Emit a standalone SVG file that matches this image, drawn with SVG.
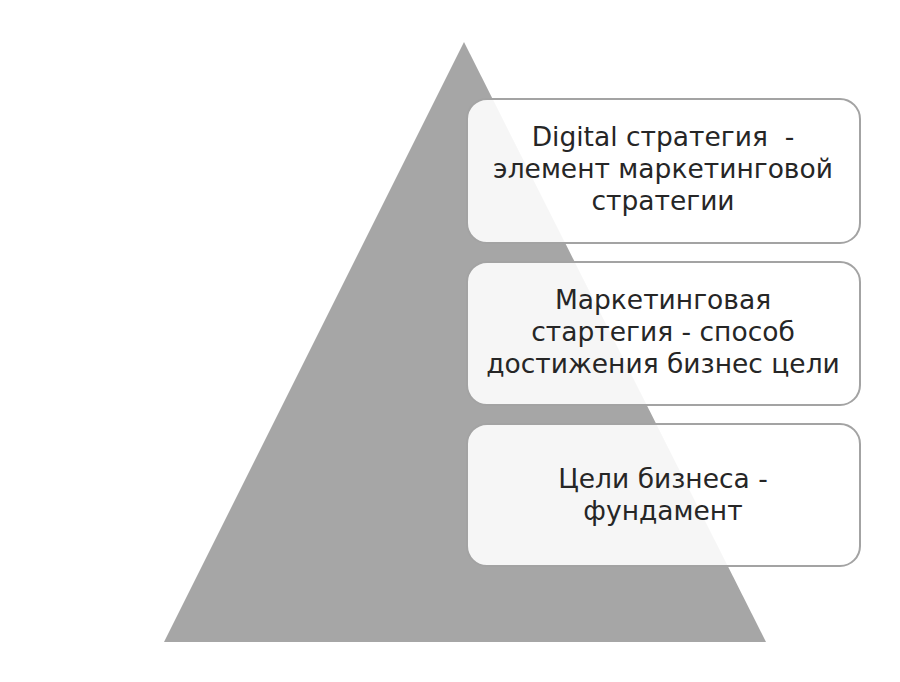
<svg xmlns="http://www.w3.org/2000/svg" width="900" height="682" viewBox="0 0 900 682">
<style>
.box{fill:#ffffff;fill-opacity:0.9;stroke:#a3a3a3;stroke-width:2}
.t{font-family:"DejaVu Sans","Liberation Sans",sans-serif;font-size:26.5px;fill:#262626;text-anchor:middle}
</style>
<rect width="900" height="682" fill="#ffffff"/>
<g id="pyramid"><polygon points="464,42 164,642 766,642" fill="#a6a6a6"/></g>
<g id="box1">
<rect class="box" x="467" y="99" width="393" height="144" rx="20"/>
<text class="t" x="663" y="146" xml:space="preserve">Digital стратегия  -</text>
<text class="t" x="663" y="178">элемент маркетинговой</text>
<text class="t" x="663" y="210">стратегии</text>
</g>
<g id="box2">
<rect class="box" x="467" y="262" width="393" height="143" rx="20"/>
<text class="t" x="663" y="309">Маркетинговая</text>
<text class="t" x="663" y="341">стартегия - способ</text>
<text class="t" x="663" y="373">достижения бизнес цели</text>
</g>
<g id="box3">
<rect class="box" x="467" y="424" width="393" height="142" rx="20"/>
<text class="t" x="663" y="488">Цели бизнеса -</text>
<text class="t" x="663" y="520">фундамент</text>
</g>
<g id="connectors"/>
</svg>
